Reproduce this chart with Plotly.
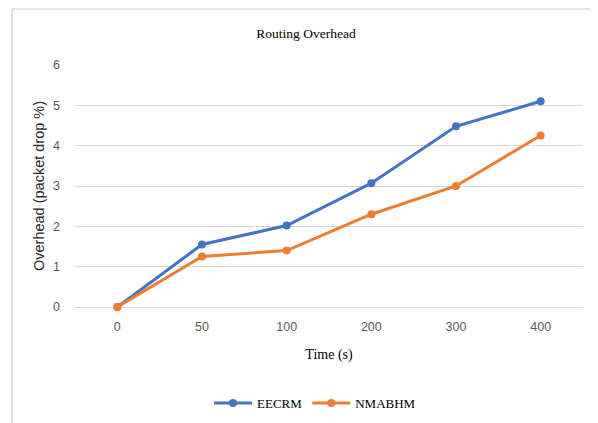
import plotly.graph_objects as go

time_labels = ["0", "50", "100", "200", "300", "400"]
eecrm = [0, 1.55, 2.02, 3.07, 4.48, 5.1]
nmabhm = [0, 1.25, 1.4, 2.3, 3.0, 4.25]

serif = "Liberation Serif"
sans = "Liberation Sans"

# page body has an 8px margin: figure coordinates = reference coordinates - 8
OFF = 8
W, H = 598 - OFF, 423 - OFF
# plot area in reference pixels
X0, X1, Y0, Y1 = 75, 583, 65, 307
L, R, T, B = X0 - OFF, W - (X1 - OFF), Y0 - OFF, H - (Y1 - OFF)
pw, ph = X1 - X0, Y1 - Y0


def px(x):
    return (x - X0) / pw


def py(y):
    return (Y1 - y) / ph


fig = go.Figure()
fig.add_trace(go.Scatter(x=time_labels, y=eecrm, name="EECRM", mode="lines+markers",
                         line=dict(color="#4472C4", width=3),
                         marker=dict(size=8, color="#4472C4"), cliponaxis=False))
fig.add_trace(go.Scatter(x=time_labels, y=nmabhm, name="NMABHM", mode="lines+markers",
                         line=dict(color="#ED7D31", width=3),
                         marker=dict(size=8, color="#ED7D31"), cliponaxis=False))

fig.update_layout(
    width=W, height=H,
    margin=dict(l=L, r=R, t=T, b=B, autoexpand=False),
    paper_bgcolor="white", plot_bgcolor="white",
    title=dict(text="Routing Overhead", x=px(306), xref="paper", xanchor="center",
               y=1 - (33 - OFF) / H, yanchor="middle",
               font=dict(family=serif, size=13.5, color="#000000")),
    xaxis=dict(type="category", range=[-0.5, 5.5], showgrid=False, zeroline=False,
               showline=False, ticks="", automargin=False, ticklabelstandoff=10,
               tickfont=dict(family=sans, size=12.5, color="#595959"),
               title=dict(text="Time (s)", font=dict(family=serif, size=14, color="#000000"),
                          standoff=16)),
    yaxis=dict(range=[0, 6], dtick=1, showgrid=True, gridcolor="#D9D9D9", gridwidth=1,
               zeroline=True, zerolinecolor="#D9D9D9", zerolinewidth=1, showline=False,
               ticks="", ticklabelstandoff=14, automargin=False,
               tickfont=dict(family=sans, size=12.5, color="#595959"),
               title=dict(text="Overhead (packet drop %)",
                          font=dict(family=sans, size=14.5, color="#262626"), standoff=4)),
    legend=dict(orientation="h", x=px(315), xanchor="center", y=py(403), yanchor="middle",
                font=dict(family=serif, size=13, color="#000000"), itemwidth=38,
                traceorder="normal"),
    showlegend=True,
)

border = "#D9D9D9"
fig.add_shape(type="line", xref="paper", yref="paper", x0=px(12), x1=px(605),
              y0=py(9), y1=py(9), line=dict(color=border, width=1.5))
fig.add_shape(type="line", xref="paper", yref="paper", x0=px(12), x1=px(12),
              y0=py(9), y1=py(430), line=dict(color=border, width=1.5))

fig.write_html("out.html")
